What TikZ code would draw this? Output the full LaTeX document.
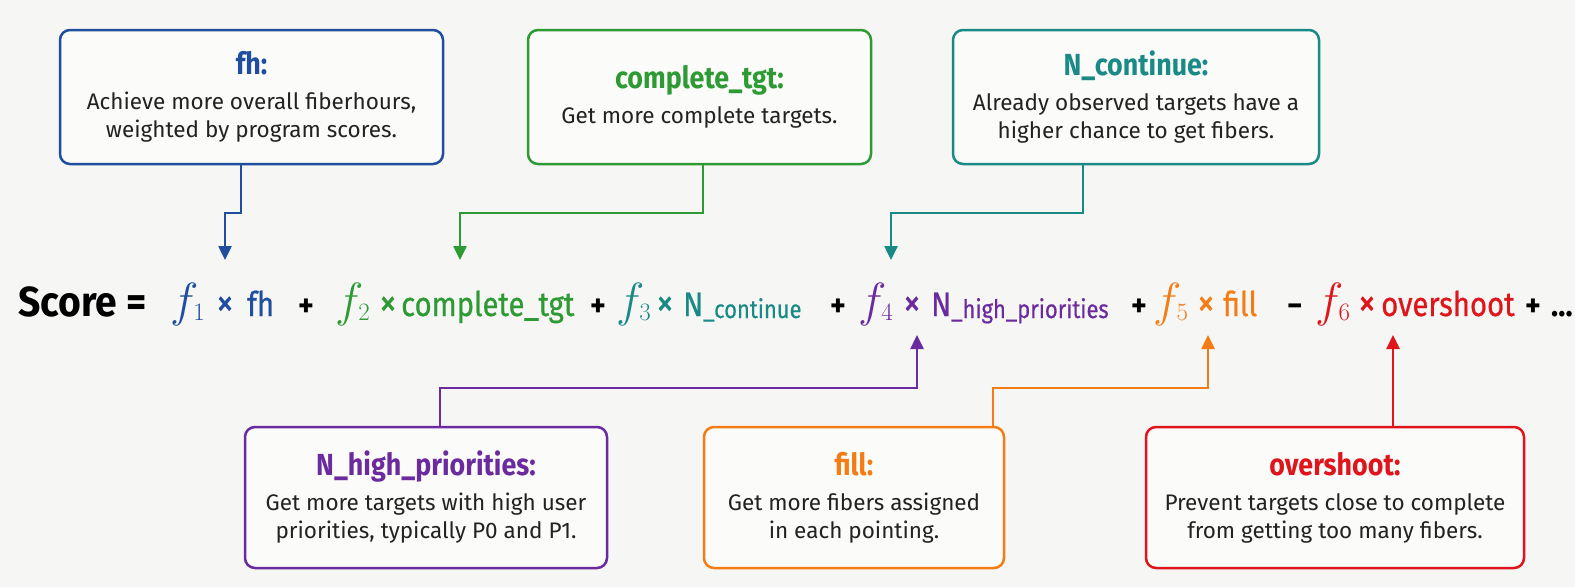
\RequirePackage{fix-cm}
\documentclass[tikz,border=0pt]{standalone}
\usepackage{fontspec}
\setmainfont{Fira Sans}
\newfontfamily\termfont[FakeStretch=0.86,FakeBold=0.6]{Fira Sans}
\newfontfamily\titlefont[FakeStretch=0.88]{Fira Sans}
\newfontfamily\scorefont[FakeStretch=0.93]{Fira Sans}
\usetikzlibrary{arrows.meta,calc}
\definecolor{bgc}{HTML}{F6F6F5}
\definecolor{cblue}{HTML}{1F4E9E}
\definecolor{cgreen}{HTML}{2E9A33}
\definecolor{cteal}{HTML}{1A8A86}
\definecolor{cpurple}{HTML}{6B2A9E}
\definecolor{corange}{HTML}{F47C15}
\definecolor{cred}{HTML}{E0141B}
\definecolor{ctext}{HTML}{222222}
\tikzset{
  box/.style={draw, line width=2.5pt, rounded corners=10pt, fill=white!55!bgc,
    align=center, inner sep=0pt, text=ctext, minimum height=134pt,
    font=\fontsize{22.5}{28}\selectfont},
  lowbox/.style={box, minimum height=141pt},
  conn/.style={line width=2.5pt, -{Triangle[width=13pt,length=14pt]}},
  word/.style={anchor=base west, inner sep=0pt, font=\termfont\fontsize{34}{34}\selectfont},
  timesop/.style={anchor=base, inner sep=0pt, font=\termfont\fontsize{40}{40}\selectfont},
  fnode/.style={anchor=base west, inner sep=0pt, font=\fontsize{48}{48}\selectfont},
  oper/.style={anchor=base, inner sep=0pt, text=black, font=\scorefont\bfseries\fontsize{32}{32}\selectfont},
}
\newcommand{\ttl}[2]{{\titlefont\bfseries\fontsize{30.5}{30.5}\selectfont\color{#1}#2}\\[7pt]}
\newcommand{\sm}[1]{\raisebox{-2pt}{\fontsize{25.5}{25.5}\selectfont #1}}
\newcommand{\fsub}[1]{$f$\hspace{-5pt}\raisebox{-4pt}{\fontsize{25}{25}\selectfont$#1$}}
\begin{document}
\begin{tikzpicture}[x=1pt,y=-1pt]
\fill[bgc] (0,0) rectangle (1575,587);
\useasboundingbox (0,0) rectangle (1575,587);

% top boxes
\node[box, draw=cblue, minimum width=383pt] (fh) at (251.5,97)
  {\ttl{cblue}{fh:}Achieve more overall fiberhours,\\weighted by program scores.};
\node[box, draw=cgreen, minimum width=343pt] (ct) at (699.5,97)
  {\ttl{cgreen}{complete\_tgt:}Get more complete targets.};
\node[box, draw=cteal, minimum width=366pt] (nc) at (1136,97)
  {\ttl{cteal}{N\_continue:}Already observed targets have a\\higher chance to get fibers.};

% bottom boxes
\node[lowbox, draw=cpurple, minimum width=362pt] (nh) at (426,497.5)
  {\ttl{cpurple}{N\_high\_priorities:}Get more targets with high user\\priorities, typically P0 and P1.};
\node[lowbox, draw=corange, minimum width=300pt] (fl) at (854,497.5)
  {\ttl{corange}{fill:}Get more fibers assigned\\in each pointing.};
\node[lowbox, draw=cred, minimum width=378pt] (os) at (1335,497.5)
  {\ttl{cred}{overshoot:}Prevent targets close to complete\\from getting too many fibers.};

% formula
\node[anchor=base west, inner sep=0pt, font=\scorefont\bfseries\fontsize{42}{42}\selectfont] (sc) at (18,316) {Score =};

\node[fnode, text=cblue]   (fa) at (170,316) {\fsub{1}};
\node[timesop, text=cblue] (xa) at (225,316) {×};
\node[word, text=cblue]    (wa) at (247,316) {fh};
\node[oper] (p1) at (306,316) {+};

\node[fnode, text=cgreen]   (fb) at (335,316) {\fsub{2}};
\node[timesop, text=cgreen] (xb) at (388,316) {×};
\node[word, text=cgreen]    (wb) at (401,316) {complete\_tgt};
\node[oper] (p2) at (598,316) {+};

\node[fnode, text=cteal]   (fc) at (616,316) {\fsub{3}};
\node[timesop, text=cteal] (xc) at (665,316) {×};
\node[word, text=cteal]    (wc) at (683,316) {N\sm{\_continue}};
\node[oper] (p3) at (838,316) {+};

\node[fnode, text=cpurple]   (fd) at (858,316) {\fsub{4}};
\node[timesop, text=cpurple] (xd) at (912,316) {×};
\node[word, text=cpurple]    (wd) at (931,316) {N\sm{\_high\_priorities}};
\node[oper] (p4) at (1139,316) {+};

\node[fnode, text=corange]   (fe) at (1153,316) {\fsub{5}};
\node[timesop, text=corange] (xe) at (1206,316) {×};
\node[word, text=corange]    (we) at (1223,316) {fill};
\node[oper] (m1) at (1295,316) {−};

\node[fnode, text=cred]   (ff) at (1315,316) {\fsub{6}};
\node[timesop, text=cred] (xf) at (1367,316) {×};
\node[word, text=cred]    (wf) at (1381,316) {overshoot};
\node[oper] (p5) at (1533,316) {+};
\node[oper, anchor=base west] (dots) at (1551,316) {…};

% connector points
\coordinate (b1) at (241,213);  \coordinate (b2) at (225,260);
\coordinate (g1) at (703,213);  \coordinate (g2) at (460,260);
\coordinate (c1) at (1083,213); \coordinate (c2) at (891,260);
\coordinate (u1) at (440,388);  \coordinate (u2) at (917,335);
\coordinate (o1) at (993,388);  \coordinate (o2) at (1208,335);
\coordinate (r2) at (1393,335);

\draw[conn, cblue]   (fh.south -| b1) -- (b1) -| (b2);
\draw[conn, cgreen]  (ct.south -| g1) -- (g1) -| (g2);
\draw[conn, cteal]   (nc.south -| c1) -- (c1) -| (c2);
\draw[conn, cpurple] (nh.north -| u1) -- (u1) -| (u2);
\draw[conn, corange] (fl.north -| o1) -- (o1) -| (o2);
\draw[conn, cred]    (os.north -| r2) -- (r2);
\end{tikzpicture}
\end{document}
